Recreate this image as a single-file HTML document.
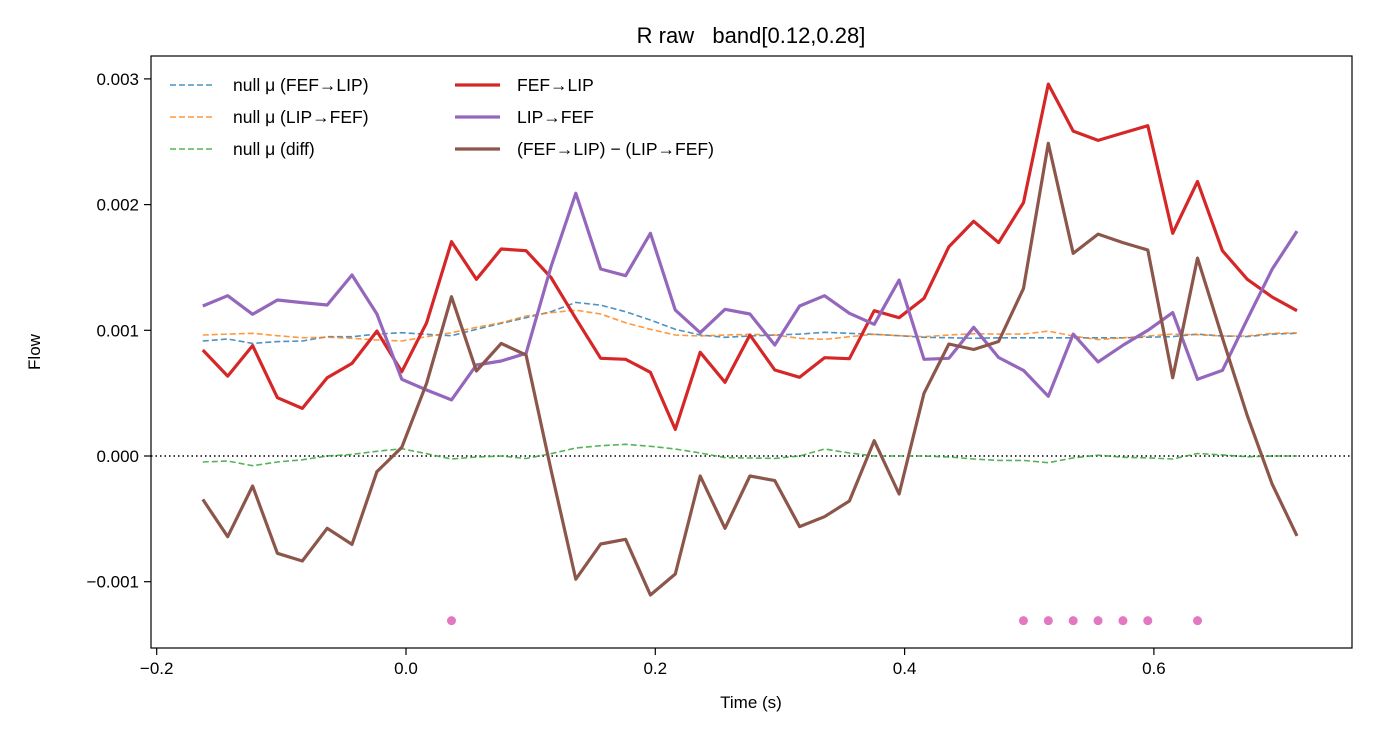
<!DOCTYPE html>
<html><head><meta charset="utf-8"><style>
html,body{margin:0;padding:0;background:#fff;}
svg{display:block;font-family:"Liberation Sans","DejaVu Sans",sans-serif;}
</style></head><body>
<svg id="chart" width="1376" height="736" viewBox="0 0 1376 736">
<rect x="0" y="0" width="1376" height="736" fill="#fff"/>
<text x="751" y="43" font-size="22" text-anchor="middle" fill="#000" style="white-space:pre" xml:space="preserve">R raw   band[0.12,0.28]</text>
<g id="plot"></g>
<rect x="151" y="56" width="1201" height="592" fill="none" stroke="#000" stroke-width="1.2"/>
<text x="751" y="708" font-size="17" text-anchor="middle">Time (s)</text>
<text x="40" y="352" font-size="17" text-anchor="middle" transform="rotate(-90 40 352)">Flow</text>
<g font-size="17.5">
 <g><line x1="170" y1="85" x2="215" y2="85" stroke="#1f77b4" stroke-opacity="0.8" stroke-width="1.6" stroke-dasharray="6,3"/><text x="233" y="91">null μ (FEF→LIP)</text></g>
 <g><line x1="170" y1="117" x2="215" y2="117" stroke="#ff7f0e" stroke-opacity="0.8" stroke-width="1.6" stroke-dasharray="6,3"/><text x="233" y="123">null μ (LIP→FEF)</text></g>
 <g><line x1="170" y1="149" x2="215" y2="149" stroke="#2ca02c" stroke-opacity="0.8" stroke-width="1.6" stroke-dasharray="6,3"/><text x="233" y="155">null μ (diff)</text></g>
 <g><line x1="455" y1="85" x2="500" y2="85" stroke="#d62728" stroke-width="3.2"/><text x="517" y="91">FEF→LIP</text></g>
 <g><line x1="455" y1="117" x2="500" y2="117" stroke="#9467bd" stroke-width="3.2"/><text x="517" y="123">LIP→FEF</text></g>
 <g><line x1="455" y1="149" x2="500" y2="149" stroke="#8c564b" stroke-width="3.2"/><text x="517" y="155">(FEF→LIP) − (LIP→FEF)</text></g>
</g>
</svg>
<script>
const T0 = -0.163, DT = 0.01995;
const fefLip = [0.843,0.636,0.878,0.464,0.379,0.623,0.737,0.994,0.671,1.06,1.705,1.406,1.647,1.633,1.42,1.095,0.777,0.769,0.666,0.212,0.825,0.586,0.963,0.684,0.626,0.782,0.774,1.156,1.10,1.254,1.665,1.867,1.698,2.016,2.959,2.585,2.511,2.570,2.628,1.772,2.184,1.633,1.406,1.265,1.156];
const lipFef = [1.193,1.275,1.127,1.241,1.22,1.201,1.44,1.13,0.61,0.525,0.446,0.724,0.756,0.817,1.506,2.09,1.488,1.434,1.772,1.161,0.981,1.167,1.13,0.883,1.193,1.275,1.135,1.048,1.40,0.769,0.777,1.024,0.784,0.681,0.475,0.97,0.749,0.881,0.999,1.141,0.61,0.681,1.088,1.485,1.789];
const diffFlow = [-0.345,-0.642,-0.239,-0.774,-0.835,-0.575,-0.703,-0.125,0.069,0.578,1.267,0.676,0.896,0.803,-0.11,-0.98,-0.70,-0.663,-1.106,-0.939,-0.159,-0.575,-0.159,-0.196,-0.562,-0.483,-0.358,0.122,-0.302,0.499,0.891,0.847,0.911,1.333,2.488,1.612,1.765,1.698,1.639,0.622,1.574,0.94,0.321,-0.223,-0.636];
const nullFefLip = [0.915,0.931,0.896,0.91,0.915,0.949,0.949,0.97,0.981,0.968,0.957,1.008,1.056,1.10,1.148,1.222,1.20,1.148,1.082,1.008,0.963,0.944,0.955,0.963,0.97,0.984,0.976,0.968,0.957,0.944,0.941,0.936,0.94,0.94,0.94,0.94,0.94,0.94,0.945,0.95,0.97,0.955,0.95,0.97,0.976];
const nullLipFef = [0.963,0.97,0.976,0.957,0.941,0.944,0.936,0.923,0.915,0.949,0.981,1.024,1.06,1.114,1.14,1.16,1.13,1.06,1.008,0.963,0.955,0.963,0.968,0.963,0.936,0.928,0.949,0.968,0.957,0.949,0.963,0.973,0.97,0.97,0.994,0.955,0.926,0.94,0.955,0.97,0.965,0.955,0.955,0.976,0.979];
const nullDiff = [-0.048,-0.04,-0.077,-0.048,-0.03,0,0.013,0.037,0.058,0.018,-0.024,-0.008,0,-0.02,0.018,0.064,0.082,0.093,0.077,0.056,0.024,-0.013,-0.016,-0.019,0,0.056,0.024,0,0,0,-0.008,-0.024,-0.035,-0.035,-0.053,-0.015,0.006,-0.01,-0.015,-0.024,0.02,0.009,-0.006,0,0];
const sigIdx = [10,33,34,35,36,37,38,40];
const sigLevel = -1.31;
const xTicks = [-0.2,0.0,0.2,0.4,0.6];
const xTickLabels = ["−0.2","0.0","0.2","0.4","0.6"];
const yTicks = [-1,0,1,2,3];
const yTickLabels = ["−0.001","0.000","0.001","0.002","0.003"];

const X = t => 406 + t*1246.5;
const Y = v => 456 - v*125.7;
const NS = "http://www.w3.org/2000/svg";
const plot = document.getElementById('plot');
function mk(tag, attrs, parent){const e=document.createElementNS(NS,tag);for(const k in attrs)e.setAttribute(k,attrs[k]);(parent||plot).appendChild(e);return e;}

xTicks.forEach((t,i)=>{
  const g = mk('g',{});
  
  
  mk('line',{x1:X(t),x2:X(t),y1:648,y2:655,stroke:'#000','stroke-width':1.2},g);
  const tx = mk('text',{x:X(t),y:674,'font-size':17,'text-anchor':'middle'},g);
  tx.textContent = xTickLabels[i];
});
yTicks.forEach((v,i)=>{
  const g = mk('g',{});
  
  
  mk('line',{x1:144,x2:151,y1:Y(v),y2:Y(v),stroke:'#000','stroke-width':1.2},g);
  const tx = mk('text',{x:139,y:Y(v)+6,'font-size':17,'text-anchor':'end'},g);
  tx.textContent = yTickLabels[i];
});
const zl = mk('line',{x1:151,x2:1352,y1:Y(0),y2:Y(0),stroke:'#000','stroke-width':1.4,'stroke-dasharray':'1.5,3'});



function series(arr, color, w, dash, op, name){
  const d = arr.map((v,i)=>(i?'L':'M')+X(T0+DT*i).toFixed(1)+','+Y(v).toFixed(1)).join(' ');
  const p = mk('path',{d:d,fill:'none',stroke:color,'stroke-width':w,'stroke-opacity':op,'stroke-linejoin':'round'});
  if(dash) p.setAttribute('stroke-dasharray',dash);
  
  
}
series(nullFefLip,'#1f77b4',1.6,'6,3',0.8,'null-fef-lip-line');
series(nullLipFef,'#ff7f0e',1.6,'6,3',0.8,'null-lip-fef-line');
series(nullDiff,'#2ca02c',1.6,'6,3',0.8,'null-diff-line');
series(fefLip,'#d62728',3.2,null,1,'fef-lip-line');
series(lipFef,'#9467bd',3.2,null,1,'lip-fef-line');
series(diffFlow,'#8c564b',3.2,null,1,'diff-line');
sigIdx.forEach(i=>{
  const c = mk('circle',{cx:X(T0+DT*i),cy:Y(sigLevel),r:4.5,fill:'#e377c2'});
  
  
});
</script>
</body></html>
